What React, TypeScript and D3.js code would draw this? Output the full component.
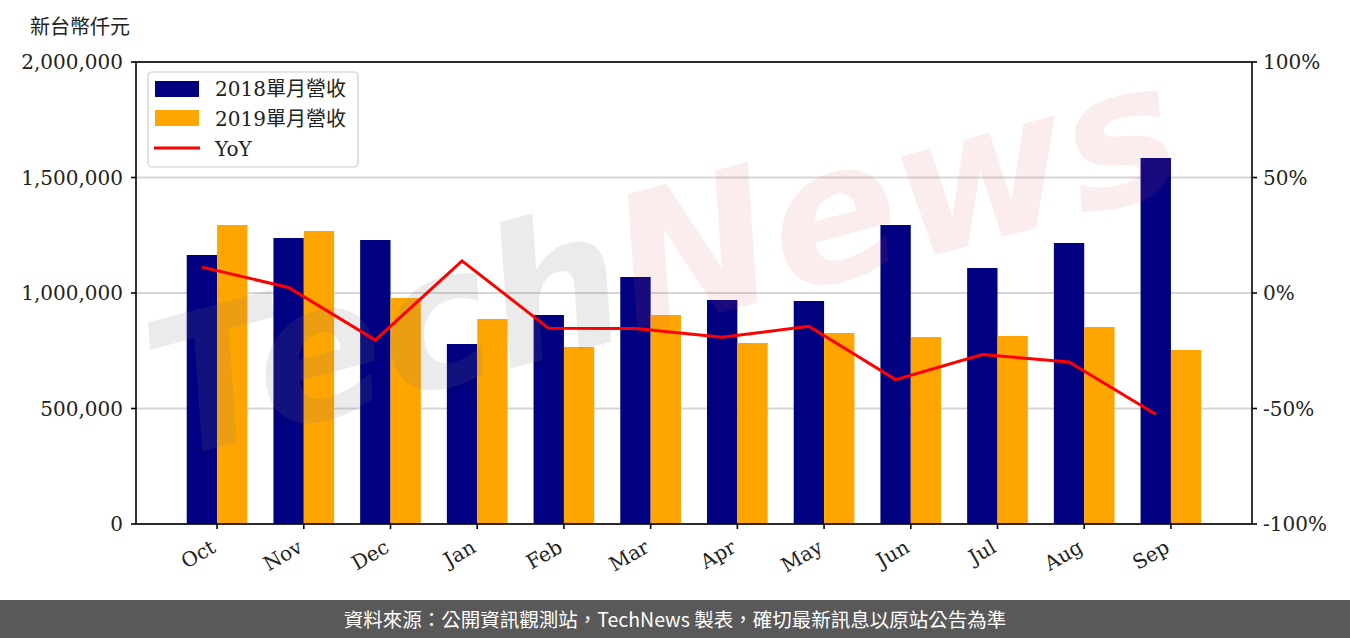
import React from "react";
import * as d3 from "d3";

const months = ["Oct", "Nov", "Dec", "Jan", "Feb", "Mar", "Apr", "May", "Jun", "Jul", "Aug", "Sep"];
const rev2018 = [1164500, 1238100, 1229400, 779200, 904800, 1069300, 969700, 965400, 1294400, 1108200, 1216500, 1584400];
const rev2019 = [1294400, 1268400, 978400, 887400, 766200, 904800, 783500, 826800, 809500, 813900, 852800, 753200];
const yoy = [11.2, 2.4, -20.4, 13.9, -15.3, -15.4, -19.2, -14.4, -37.5, -26.6, -29.9, -52.5];
const leftTicks = [0, 500000, 1000000, 1500000, 2000000];
const rightTicks = [-100, -50, 0, 50, 100];
const legendLabels = ["2018單月營收", "2019單月營收", "YoY"];

const W = 1350, H = 638;
const L = 136, R = 1252, T = 62, B = 524;
const serif = "'DejaVu Serif', 'Liberation Serif', serif";
const cjk = "'Noto Sans CJK TC', 'Noto Sans CJK SC', sans-serif";
const latinCjk = "'DejaVu Serif', 'Noto Sans CJK TC', serif";

export default function App() {
  const barW = 0.35;
  const x = d3.scaleLinear().domain([-0.935, 11.935]).range([L, R]);
  const y = d3.scaleLinear().domain([0, 2000000]).range([B, T]);
  const y2 = d3.scaleLinear().domain([-100, 100]).range([B, T]);
  const fmt = d3.format(",");
  const line = d3
    .line<number>()
    .x((_, i) => x(i - barW / 2))
    .y((d) => y2(d));
  const bw = x(barW) - x(0);

  return (
    <svg width={W} height={H} style={{ position: "absolute", left: 0, top: 0, background: "#fff" }}>
      <rect x={0} y={0} width={W} height={H} fill="#fff" />
      {/* grid */}
      {leftTicks.map((t) => (
        <line key={"g" + t} x1={L} x2={R} y1={y(t)} y2={y(t)} stroke="#d3d3d3" strokeWidth={1.5} />
      ))}
      {rightTicks.map((t) => (
        <line key={"g2" + t} x1={L} x2={R} y1={y2(t)} y2={y2(t)} stroke="#d3d3d3" strokeWidth={1.5} />
      ))}
      {/* bars */}
      {rev2018.map((v, i) => (
        <rect key={"a" + i} x={x(i - barW)} y={y(v)} width={bw} height={B - y(v)} fill="#000080" />
      ))}
      {rev2019.map((v, i) => (
        <rect key={"b" + i} x={x(i)} y={y(v)} width={bw} height={B - y(v)} fill="#FFA500" />
      ))}
      {/* watermark */}
      <g transform="translate(170,460) rotate(-15)" style={{ pointerEvents: "none" }}>
        <text x={0} y={0} fontFamily="'DejaVu Sans', sans-serif" fontWeight="bold" fontStyle="italic" fontSize={190}
          fill="rgba(120,120,120,0.15)">Tech</text>
        <text x={480} y={0} fontFamily="'DejaVu Sans', sans-serif" fontWeight="bold" fontStyle="italic" fontSize={190}
          fill="rgba(215,90,100,0.11)">News</text>
      </g>
      {/* yoy line */}
      <path d={line(yoy) || ""} fill="none" stroke="#ff0000" strokeWidth={3} />
      {/* frame */}
      <rect x={L} y={T} width={R - L} height={B - T} fill="none" stroke="#000" strokeWidth={1.6} />
      {/* left axis */}
      {leftTicks.map((t) => (
        <g key={"l" + t}>
          <line x1={L - 5} x2={L} y1={y(t)} y2={y(t)} stroke="#000" strokeWidth={1.6} />
          <text x={L - 13} y={y(t)} dy="0.35em" textAnchor="end" fontFamily={serif} fontSize={20} fill="#222">{fmt(t)}</text>
        </g>
      ))}
      {/* right axis */}
      {rightTicks.map((t) => (
        <g key={"r" + t}>
          <line x1={R} x2={R + 5} y1={y2(t)} y2={y2(t)} stroke="#000" strokeWidth={1.6} />
          <text x={R + 11} y={y2(t)} dy="0.35em" textAnchor="start" fontFamily={serif} fontSize={20} fill="#222">{t + "%"}</text>
        </g>
      ))}
      {/* x axis */}
      {months.map((m, i) => (
        <g key={"m" + i}>
          <line x1={x(i)} x2={x(i)} y1={B} y2={B + 5} stroke="#000" strokeWidth={1.6} />
          <text transform={`translate(${x(i) - 7},${B + 15}) rotate(-30)`} textAnchor="end" dy="0.7em"
            fontFamily={serif} fontSize={20} fill="#222">{m}</text>
        </g>
      ))}
      {/* y label */}
      <text x={30} y={34} fontFamily={cjk} fontSize={20} fill="#222">新台幣仟元</text>
      {/* legend */}
      <rect x={148} y={72} width={210} height={95} rx={4} fill="rgba(255,255,255,0.8)" stroke="#cccccc" strokeWidth={1.2} />
      <rect x={155} y={81} width={44} height={16} fill="#000080" />
      <rect x={155} y={110} width={44} height={16} fill="#FFA500" />
      <line x1={154} x2={200} y1={148} y2={148} stroke="#ff0000" strokeWidth={3} />
      {legendLabels.map((s, i) => (
        <text key={"lg" + i} x={215} y={89 + i * 30} dy="0.36em" fontFamily={latinCjk} fontSize={20} fill="#222">{s}</text>
      ))}
      {/* footer */}
      <rect x={0} y={600} width={W} height={38} fill="#595959" />
      <text x={675} y={620} dy="0.36em" textAnchor="middle" fontFamily={cjk} fontSize={19.5} fill="#fff">
        資料來源：公開資訊觀測站，TechNews 製表，確切最新訊息以原站公告為準
      </text>
    </svg>
  );
}
